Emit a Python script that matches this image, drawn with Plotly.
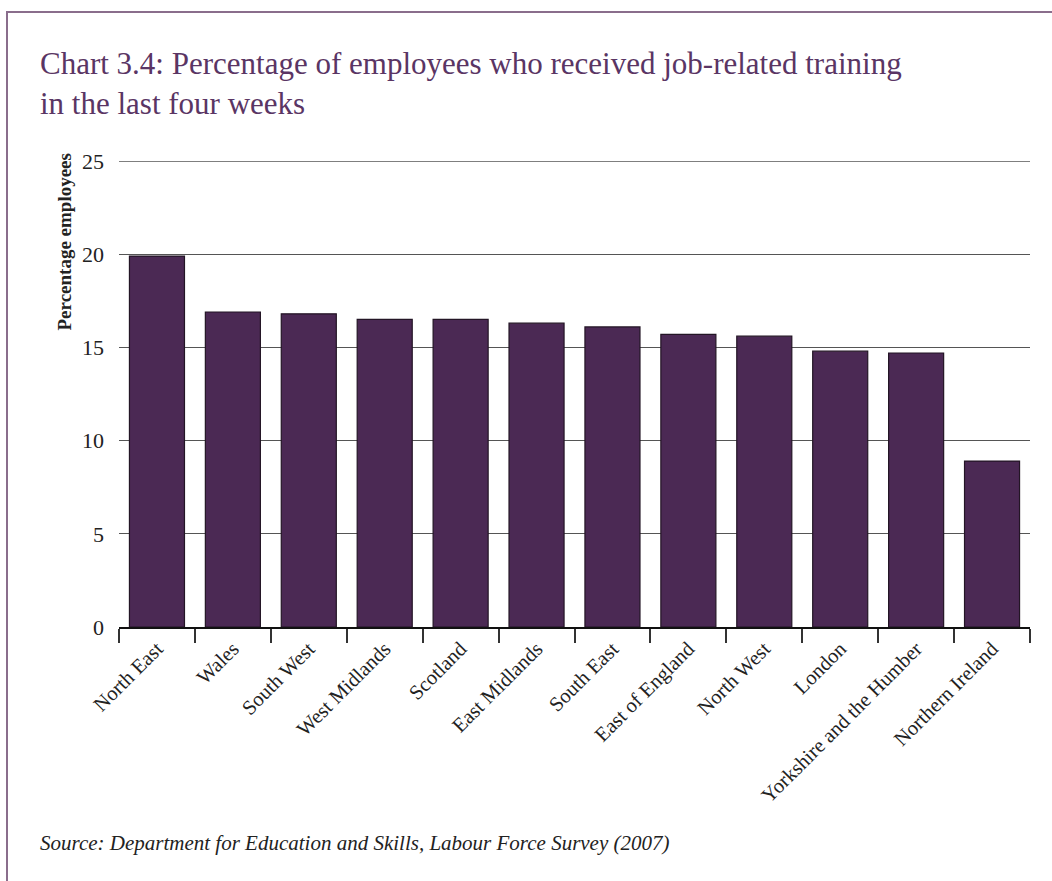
import plotly.graph_objects as go

regions = ["North East", "Wales", "South West", "West Midlands", "Scotland",
           "East Midlands", "South East", "East of England", "North West",
           "London", "Yorkshire and the Humber", "Northern Ireland"]
values = [19.9, 16.9, 16.8, 16.5, 16.5, 16.3, 16.1, 15.7, 15.6, 14.8, 14.7, 8.9]
y_ticks = [0, 5, 10, 15, 20, 25]

W, H = 1052, 881
L, R, T, B = 119, 22, 161, 254
pw, ph = W - L - R, H - T - B

def px_x(p):
    return (p - L) / pw

def px_y(p):
    return (H - B - p) / ph

serif = "Liberation Serif, Times New Roman, serif"
purple_text = "#5a3564"

fig = go.Figure(go.Bar(
    x=regions, y=values,
    marker=dict(color="#4b2954", line=dict(color="#231525", width=1.2)),
    width=0.725,
))

fig.update_layout(
    width=W, height=H,
    margin=dict(l=L, r=R, t=T, b=B),
    paper_bgcolor="white", plot_bgcolor="white",
    showlegend=False,
    font=dict(family=serif, color="#222"),
    xaxis=dict(
        showline=True, linecolor="#111", linewidth=1.5,
        ticks="outside", tickson="boundaries", ticklen=14, tickcolor="#333", tickwidth=1.5,
        tickangle=-45, tickfont=dict(size=20.5, family=serif, color="#222"),
        showgrid=False,
    ),
    yaxis=dict(
        range=[0, 25], tickvals=y_ticks, showgrid=True, gridcolor="#555", gridwidth=1.3,
        zeroline=False, showline=False, ticks="", ticklabelstandoff=14,
        tickfont=dict(size=22, family=serif, color="#222"),
    ),
    annotations=[
        dict(text="Chart 3.4: Percentage of employees who received job-related training<br>in the last four weeks",
             xref="paper", yref="paper", x=px_x(38), y=px_y(44), xanchor="left", yanchor="top",
             showarrow=False, align="left", font=dict(size=31, family=serif, color=purple_text)),
        dict(text="<b>Percentage employees</b>", textangle=-90,
             xref="paper", yref="paper", x=px_x(64), y=px_y(152), xanchor="center", yanchor="top",
             showarrow=False, font=dict(size=19, family=serif, color="#222")),
        dict(text="<i>Source: Department for Education and Skills, Labour Force Survey (2007)</i>",
             xref="paper", yref="paper", x=px_x(38), y=px_y(843), xanchor="left", yanchor="middle",
             showarrow=False, font=dict(size=21, family=serif, color="#222")),
    ],
    shapes=[
        dict(type="line", xref="paper", yref="y", x0=0, x1=1, y0=y_ticks[-1], y1=y_ticks[-1],
             line=dict(color="#555", width=1.3), layer="below"),
        dict(type="line", xref="paper", yref="paper", x0=px_x(6), x1=px_x(1060), y0=px_y(12), y1=px_y(12),
             line=dict(color="#8a6d8c", width=2)),
        dict(type="line", xref="paper", yref="paper", x0=px_x(7), x1=px_x(7), y0=px_y(11), y1=px_y(890),
             line=dict(color="#8a6d8c", width=2)),
    ],
)

fig.write_html("out.html")
